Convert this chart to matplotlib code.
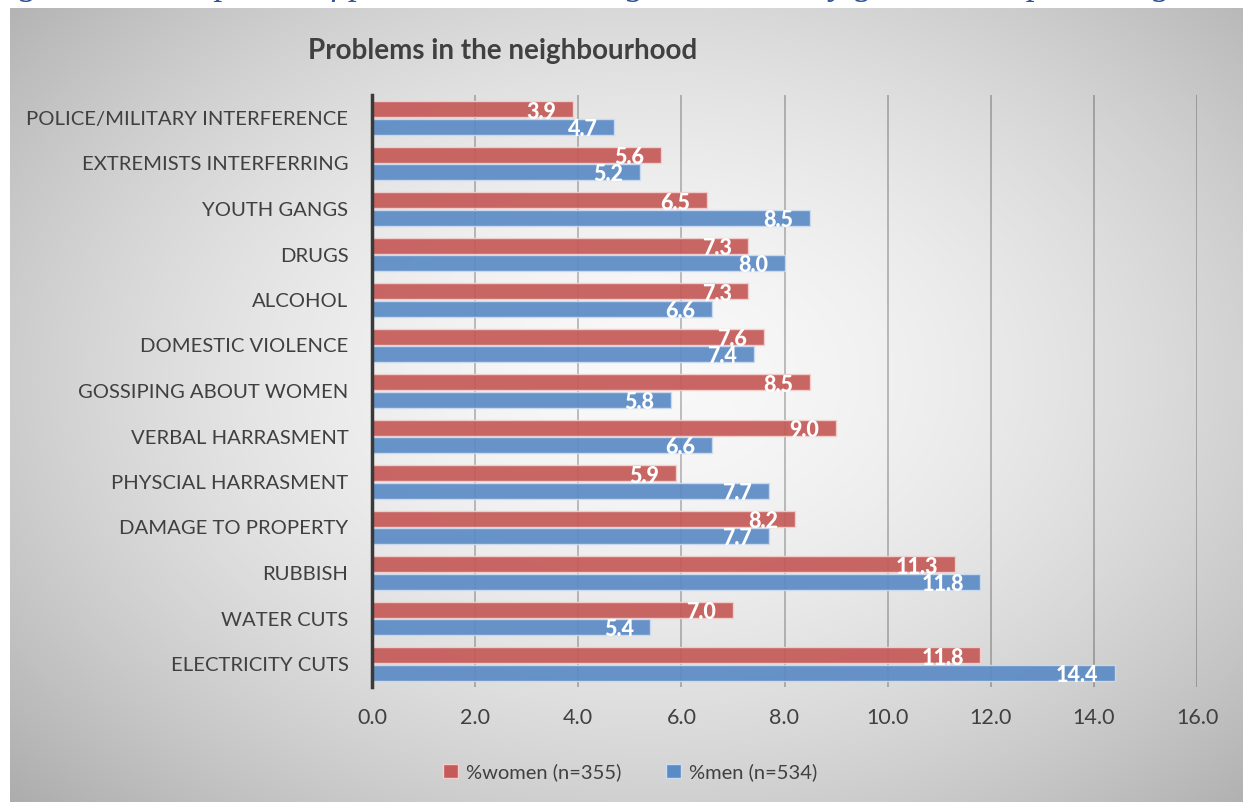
import numpy as np
import matplotlib.pyplot as plt
from matplotlib.patches import Patch

categories = ["POLICE/MILITARY INTERFERENCE", "EXTREMISTS INTERFERRING", "YOUTH GANGS",
              "DRUGS", "ALCOHOL", "DOMESTIC VIOLENCE", "GOSSIPING ABOUT WOMEN",
              "VERBAL HARRASMENT", "PHYSCIAL HARRASMENT", "DAMAGE TO PROPERTY",
              "RUBBISH", "WATER CUTS", "ELECTRICITY CUTS"]
women = [3.9, 5.6, 6.5, 7.3, 7.3, 7.6, 8.5, 9.0, 5.9, 8.2, 11.3, 7.0, 11.8]
men = [4.7, 5.2, 8.5, 8.0, 6.6, 7.4, 5.8, 6.6, 7.7, 7.7, 11.8, 5.4, 14.4]
series_names = ["%women (n=355)", "%men (n=534)"]
xticks = np.arange(0, 18, 2)

W, H = 1243, 802
plt.rcParams['font.family'] = ['Lato', 'DejaVu Sans']
fig = plt.figure(figsize=(W / 100, H / 100), dpi=100)

# caption line above the chart frame (only its descenders fall inside the page)
fig.text(-12 / W, 1 + 6 / H,
         "Figure 6: Perceptions of problems in the neighbourhood by gender and percentages",
         family='Liberation Serif', style='italic', fontsize=26, color='#2E5597',
         va='baseline', ha='left')

# gray radial gradient behind the chart
bg = fig.add_axes([10 / W, 0, 1 - 10 / W, 794 / H], zorder=-5)
gx, gy = np.meshgrid(np.linspace(0, W - 10, 400), np.linspace(0, 794, 260))
r = np.sqrt(((gx - 640) / 720) ** 2 + ((gy - 370) / 500) ** 2)
shade = 0.975 - 0.21 * np.clip(r, 0, 1.3) ** 1.7
bg.imshow(np.dstack([shade] * 3), aspect='auto', extent=(0, 1, 0, 1), interpolation='bilinear')
bg.set_axis_off()

ax = fig.add_axes([372 / W, 1 - 686.75 / H, (1197 - 372) / W, (686.75 - 95.25) / H])
ax.set_facecolor('none')

y = np.arange(len(categories))
h = 0.35
red = '#C55A58'
blue = '#5B8BC5'
bars_w = ax.barh(y - 0.19, women, height=h, color=red, alpha=0.92,
                 edgecolor='#f3d0cf', linewidth=1.0, zorder=2)
bars_m = ax.barh(y + 0.19, men, height=h, color=blue, alpha=0.92,
                 edgecolor='#cddcf0', linewidth=1.0, zorder=2)

for bars, vals in ((bars_w, women), (bars_m, men)):
    for b, v in zip(bars, vals):
        ax.annotate(f"{v:.1f}", (v, b.get_y() + b.get_height() / 2),
                    xytext=(-12, -2), textcoords='offset points',
                    ha='right', va='center', color='white', fontsize=15.5,
                    fontweight=900, zorder=3)

ax.set_xlim(0, 16)
ax.set_ylim(len(categories) - 0.5, -0.5)
ax.set_xticks(xticks)
ax.set_xticklabels([f"{t:.1f}" for t in xticks])
ax.set_yticks(y)
ax.set_yticklabels(categories)
ax.tick_params(axis='x', length=0, pad=15, labelsize=15.5, labelcolor='#404040')
ax.tick_params(axis='y', length=0, pad=17, labelsize=14.6, labelcolor='#404040')

ax.grid(axis='x', color='black', alpha=0.28, linewidth=1.2, zorder=1)
ax.set_axisbelow(True)
for s in ('top', 'right', 'bottom'):
    ax.spines[s].set_visible(False)
ax.spines['left'].set_color('#3a3a3a')
ax.spines['left'].set_linewidth(2.5)
ax.spines['left'].set_zorder(4)

fig.text(308 / W, 1 - 51 / H, "Problems in the neighbourhood", fontsize=20,
         fontweight='bold', color='#404040', va='center', ha='left')

handles = [Patch(facecolor=red, edgecolor='#f3d0cf'), Patch(facecolor=blue, edgecolor='#cddcf0')]
fig.legend(handles, series_names, loc='center', bbox_to_anchor=(630 / W, 1 - 772 / H),
           ncol=2, frameon=False, fontsize=14.5, labelcolor='#404040',
           handlelength=0.75, handleheight=0.75, handletextpad=0.4, columnspacing=2.2)

fig.savefig('out.png', dpi=100)
